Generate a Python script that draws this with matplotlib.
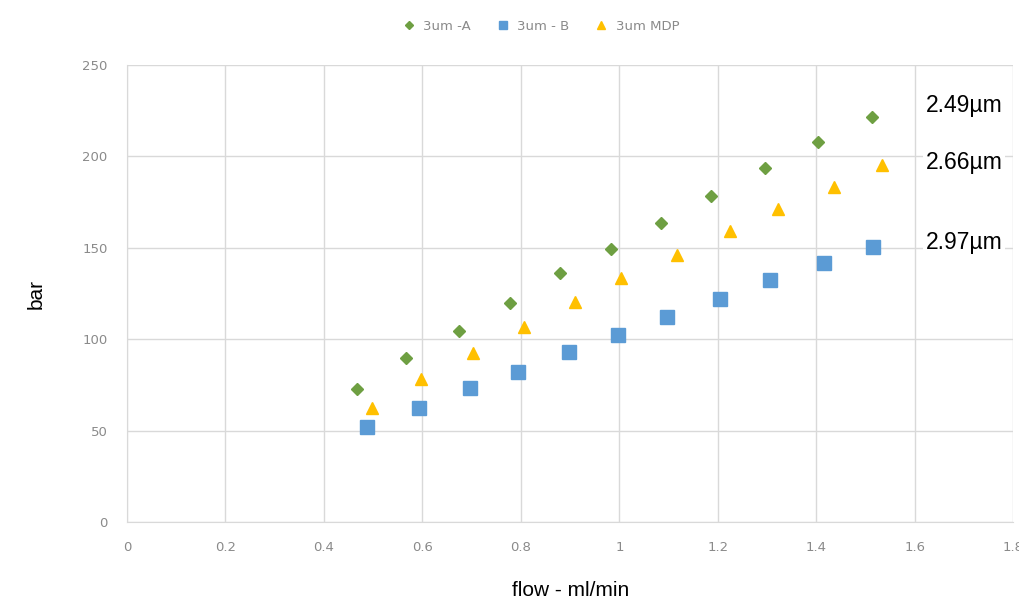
import matplotlib.pyplot as plt

# flow (ml/min) vs pressure (bar)
flow_a = [0.467, 0.567, 0.674, 0.778, 0.879, 0.983, 1.085, 1.185, 1.295, 1.404, 1.512]
bar_a = [72.6, 89.5, 104.7, 119.6, 136.0, 149.3, 163.4, 178.3, 193.5, 207.7, 221.4]

flow_b = [0.488, 0.593, 0.696, 0.795, 0.898, 0.998, 1.096, 1.205, 1.305, 1.415, 1.515]
bar_b = [52.2, 62.2, 73.1, 81.9, 92.8, 102.1, 112.0, 122.2, 132.2, 141.5, 150.3]

flow_mdp = [0.498, 0.597, 0.702, 0.807, 0.910, 1.004, 1.116, 1.224, 1.323, 1.435, 1.533]
bar_mdp = [62.5, 78.5, 92.5, 106.5, 120.5, 133.5, 146.0, 159.0, 171.5, 183.5, 195.5]

labels = ["3um -A", "3um - B", "3um MDP"]
sizes_um = ["2.49µm", "2.66µm", "2.97µm"]
size_y = [228, 196.5, 153]

xticks = [0, 0.2, 0.4, 0.6, 0.8, 1, 1.2, 1.4, 1.6, 1.8]
xticklabels = ["0", "0.2", "0.4", "0.6", "0.8", "1", "1.2", "1.4", "1.6", "1.8"]
yticks = [0, 50, 100, 150, 200, 250]

green = "#6e9f42"
blue = "#5b9bd5"
yellow = "#ffc000"
grey = "#8a8a8a"

fig = plt.figure(figsize=(10.2, 5.99), dpi=100)
ax = fig.add_axes([0.1245, 0.1285, 0.869, 0.763])

ax.plot(flow_a, bar_a, 'D', color=green, ms=6.5, mec=green, label=labels[0], clip_on=False)
ax.plot(flow_b, bar_b, 's', color=blue, ms=10, mec=blue, label=labels[1], clip_on=False)
ax.plot(flow_mdp, bar_mdp, '^', color=yellow, ms=9, mec=yellow, label=labels[2], clip_on=False)

ax.set_xlim(0, 1.8)
ax.set_ylim(0, 250)
ax.set_xticks(xticks)
ax.set_xticklabels(xticklabels)
ax.set_yticks(yticks)
ax.grid(True, color="#d9d9d9", lw=1)
ax.set_axisbelow(True)
for s in ["top", "right"]:
    ax.spines[s].set_visible(False)
for s in ["left", "bottom"]:
    ax.spines[s].set_color("#d9d9d9")
ax.tick_params(length=0, colors=grey, labelsize=9.5, pad=14)
ax.tick_params(axis='y', pad=14)

ax.set_xlabel("flow - ml/min", fontsize=15, family="Liberation Sans", labelpad=19)
ax.set_ylabel("bar", fontsize=15, family="Liberation Sans", labelpad=26)

for txt, yv in zip(sizes_um, size_y):
    ax.text(1.622, yv, txt, fontsize=16.5, family="Liberation Sans", va="center", ha="left",
            bbox=dict(facecolor="white", edgecolor="none", pad=2), clip_on=False, zorder=5)

leg = fig.legend(loc="upper center", bbox_to_anchor=(0.527, 0.987), ncol=3, frameon=False,
                 fontsize=9.5, handletextpad=0.1, columnspacing=1.4, markerscale=0.6)
for t in leg.get_texts():
    t.set_color(grey)

fig.savefig("out.png", dpi=100)
